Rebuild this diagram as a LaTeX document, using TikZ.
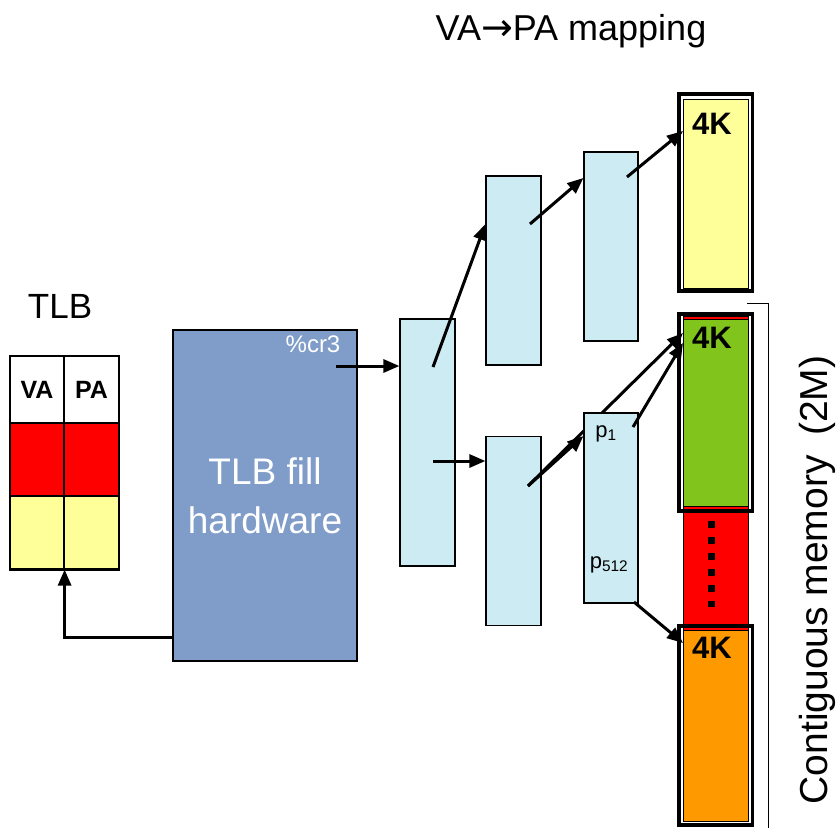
\documentclass[tikz,border=0pt]{standalone}
\usepackage{fontspec}
\setmainfont{Liberation Sans}
\newfontfamily\arrowfont{DejaVu Sans}
\usetikzlibrary{shapes, arrows.meta}
\usepackage{xcolor}

\definecolor{tlbred}{RGB}{255,0,0}
\definecolor{paleyellow}{RGB}{255,255,153}
\definecolor{hwblue}{RGB}{127,157,200}
\definecolor{ptblue}{RGB}{204,235,242}
\definecolor{pagegreen}{RGB}{128,196,28}
\definecolor{pageorange}{RGB}{255,153,0}

\tikzstyle{cell} = [rectangle, minimum width=54pt, minimum height=73pt, inner sep=0pt, text centered, draw=black, line width=1.2pt]
\tikzstyle{hardware} = [rectangle, minimum width=184pt, minimum height=331pt, align=center, draw=black, line width=1.2pt, fill=hwblue, text=white, font=\fontsize{37}{49}\selectfont]
\tikzstyle{ptable} = [rectangle, minimum width=55pt, minimum height=189pt, inner sep=0pt, draw=black, line width=1.2pt, fill=ptblue]
\tikzstyle{frame} = [rectangle, minimum width=73.5pt, minimum height=197pt, inner sep=0pt, draw=black, line width=3.5pt]
\tikzstyle{page} = [rectangle, minimum width=65pt, minimum height=189pt, inner sep=0pt, draw=black, line width=1pt]
\tikzstyle{pagelabel} = [anchor=base, font=\fontsize{31}{33}\selectfont\bfseries]
\tikzstyle{arrow} = [line width=3pt, -{Triangle[length=16pt,width=13pt]}]

\begin{document}
\begin{tikzpicture}[x=1pt, y=-1pt]
\useasboundingbox (0,0) rectangle (837,830);
%
% Define nodes
%
\node (title) [anchor=base, font=\fontsize{36}{40}\selectfont] at (571,40) {VA{\arrowfont\fontsize{38}{40}\selectfont →}PA mapping};
\node (tlbtitle) [anchor=base, font=\fontsize{35}{38}\selectfont] at (60,318) {TLB};
\node (va) [cell, minimum height=67pt, fill=white, font=\fontsize{25}{27}\selectfont\bfseries] at (37,389.5) {VA};
\node (pa) [cell, minimum width=55pt, minimum height=67pt, fill=white, font=\fontsize{25}{27}\selectfont\bfseries] at (91.5,389.5) {PA};
\node (var) [cell, fill=tlbred] at (37,459.5) {};
\node (par) [cell, minimum width=55pt, fill=tlbred] at (91.5,459.5) {};
\node (vay) [cell, fill=paleyellow] at (37,532.5) {};
\node (pay) [cell, minimum width=55pt, fill=paleyellow] at (91.5,532.5) {};
\draw [line width=3pt] (vay.south west) -- (pay.south east);

\node (hw) [hardware] at (265,495.5) {TLB fill\\hardware};
\node (cr3) [anchor=base, text=white, font=\fontsize{24}{26}\selectfont] at (313,352) {\%cr3};

\node (l1) [ptable, minimum height=247pt] at (427.5,442.5) {};
\node (l2a) [ptable] at (513.5,270.5) {};
\node (l2b) [ptable] at (513.5,531) {};
\node (l3a) [ptable, minimum width=54pt] at (611,246.5) {};

% memory pages
\node (redrun) [rectangle, minimum width=65pt, minimum height=314pt, draw=black, line width=1pt, fill=tlbred] at (715.5,473) {};
\draw [line width=7pt, dash pattern=on 7pt off 9pt] (711,521) -- (711,607);
\node (frameY) [frame] at (715.5,192.5) {};
\node (pageY) [page, fill=paleyellow] at (716,193.5) {};
\node (frameG) [frame] at (715.5,412.5) {};
\node (pageG) [page, minimum height=187pt, fill=pagegreen] at (716,412.5) {};
\node (frameO) [frame, minimum height=199pt] at (715.5,725.5) {};
\node (pageO) [page, minimum height=191pt, fill=pageorange] at (716,725.5) {};
\node (kY) [pagelabel] at (712,134) {4K};
\node (kG) [pagelabel] at (712,348) {4K};
\node (kO) [pagelabel] at (712,658) {4K};

\draw [line width=1pt] (747,303) -- (768,303) -- (768,828);
\node (contig) [rotate=90, anchor=base, font=\fontsize{39}{41}\selectfont] at (827,580) {Contiguous memory\hspace{0.5em}(2M)};
%
% Connect nodes
%
\coordinate (cr3in) at (336,366);
\coordinate (l1up) at (433,367);
\coordinate (l1dn) at (433,461);
\coordinate (l2aout) at (530,224);
\coordinate (l3aout) at (627,177);
\coordinate (l2bout) at (528,486);
\coordinate (p1out) at (633,427);
\coordinate (p512out) at (634,602);
\draw [arrow] (cr3in) -- (cr3in -| l1.west);
\draw [arrow] (l1up) -- ([yshift=46.5pt]l2a.west);
\draw [arrow] (l1dn) -- (l1dn -| l2b.west);
\draw [arrow] (l2aout) -- ([yshift=68.5pt]l3a.west);
\draw [arrow] (l3aout) -- ([yshift=62.5pt]pageY.west);
\draw [arrow] (l2bout) -- ([yshift=79.5pt]pageG.west);
% last table goes over the long arrow
\node (l3b) [ptable, minimum width=54pt, minimum height=190pt] at (611,508) {};
\node (p1) [anchor=base, font=\fontsize{22}{24}\selectfont] at (606,437) {p\textsubscript{1}};
\node (p512) [anchor=base, font=\fontsize{22}{24}\selectfont] at (609,568) {p\textsubscript{512}};
\draw [arrow] (l2bout) -- ([yshift=72pt]l3b.west);
\draw [arrow] (p1out) -- ([yshift=69.5pt]pageG.west);
\draw [arrow] (p512out) -- ([yshift=82.5pt]pageO.west);
\draw [arrow] ([yshift=-141.5pt]hw.west) -| (vay.south east);
\end{tikzpicture}
\end{document}
